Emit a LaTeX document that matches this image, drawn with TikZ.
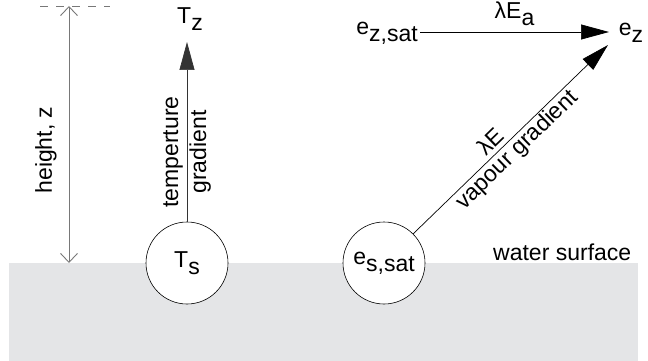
\documentclass[tikz,border=0pt]{standalone}
\usepackage{fontspec}
\setmainfont{Liberation Sans}
\usetikzlibrary{arrows.meta}
\definecolor{water}{RGB}{228,229,231}
\definecolor{hgray}{RGB}{120,120,120}
\newcommand{\lowr}[1]{\raisebox{-0.3em}{#1}}
\begin{document}
\begin{tikzpicture}[x=1pt,y=-1pt,
  lbl/.style={font=\fontsize{23}{28}\selectfont, inner sep=0pt},
  bubble/.style={circle, draw=black, line width=0.6pt, fill=white, minimum size=82pt, inner sep=0pt, font=\fontsize{23}{28}\selectfont},
  bigtip/.style={-{Triangle[length=28pt,width=15pt]}},
  flux/.style={line width=0.7pt, bigtip}]
\useasboundingbox (0,0) rectangle (648,361);
\fill[water] (9,263) rectangle (638,361);
% height
\draw[hgray, line width=0.8pt, dash pattern=on 8pt off 8pt] (40,6) -- (110,6);
\coordinate (htop) at (69,6);
\coordinate (hbot) at (69,263);
\draw[hgray, line width=0.9pt, {Straight Barb[length=9pt,width=17pt]}-{Straight Barb[length=9pt,width=17pt]}] (htop) -- (hbot);
\node[lbl, rotate=90] (hl) at (46,150) {height, z};
% temperature
\node[bubble] (Ts) at (187,263) {T\lowr{s}};
\node[lbl] (Tz) at (190,19) {T\lowr{z}};
\coordinate (ttip) at (187,42);
\draw[flux, draw=black!80] (Ts) -- (ttip);
\node[lbl, rotate=90, align=center] (tg) at (187,152) {temperture\\gradient};
% vapour
\node[bubble] (es) at (384,263) {e\lowr{s,sat}};
\node[lbl] (ezsat) at (387,33) {e\lowr{z,sat}};
\node[lbl] (ez) at (631,33) {e\lowr{z}};
\coordinate (hs) at (420,32);
\coordinate (he) at (609,32);
\coordinate (dtip) at (608,45);
\draw[flux] (hs) -- node[lbl, above=6pt] (lea) {λE\lowr{a}} (he);
\draw[flux] (es.45) -- node[lbl, sloped, above=4pt, pos=0.44] (le) {λE}
  node[lbl, sloped, below=1.5pt, pos=0.49] (vg) {vapour gradient} (dtip);
\node[lbl, anchor=base west] (ws) at (493,260) {water surface};
\end{tikzpicture}
\end{document}
